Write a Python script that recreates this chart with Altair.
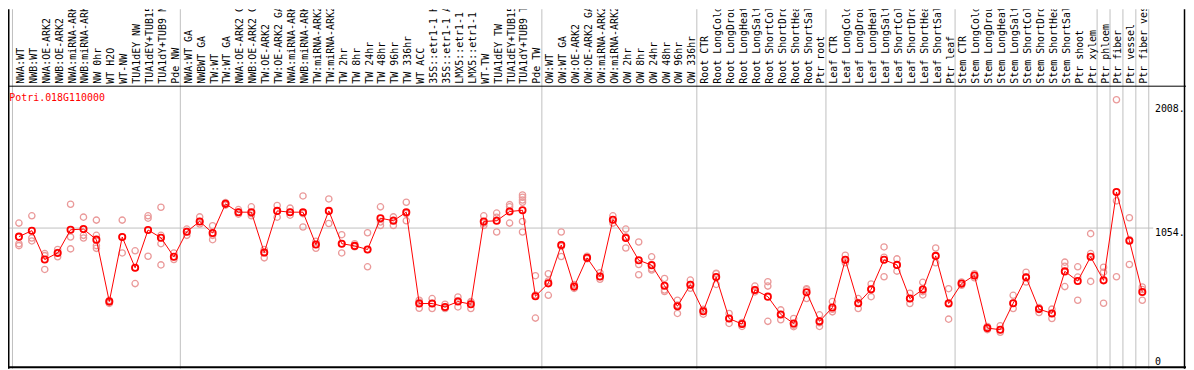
import altair as alt
import pandas as pd

gene = "Potri.018G110000"

labels = [
    "NWA:WT", "NWB:WT", "NWA:OE-ARK2", "NWB:OE-ARK2", "NWA:miRNA-ARK2", "NWB:miRNA-ARK2",
    "NW 0hr", "WT H2O", "WT-NW", "TUA1dEY NW", "TUA1dEY+TUB15", "TUA1dY+TUB9 NW", "Pde NW",
    "NWA:WT GA", "NWBWT GA", "TW:WT", "TW:WT GA", "NWA:OE-ARK2 GA", "NWB:OE-ARK2 GA",
    "TW:OE-ARK2", "TW:OE-ARK2 GA", "NWA:miRNA-ARK2", "NWB:miRNA-ARK2", "TW:miRNA-ARK2",
    "TW:miRNA-ARK2", "TW 2hr", "TW 8hr", "TW 24hr", "TW 48hr", "TW 96hr", "TW 336hr",
    "WT ACC", "35S::etr1-1 H2", "35S::etr1-1 AC", "LMX5::etr1-1 H", "LMX5::etr1-1 A",
    "WT-TW", "TUA1dEY TW", "TUA1dEY+TUB15", "TUA1dY+TUB9 TW", "Pde TW",
    "OW:WT", "OW:WT GA", "OW:OE-ARK2", "OW:OE-ARK2 GA", "OW:miRNA-ARK2", "OW:miRNA-ARK2",
    "OW 2hr", "OW 8hr", "OW 24hr", "OW 48hr", "OW 96hr", "OW 336hr",
    "Root CTR", "Root LongCold", "Root LongDroug", "Root LongHeat", "Root LongSalt",
    "Root ShortCold", "Root ShortDrou", "Root ShortHeat", "Root ShortSalt", "Ptr root",
    "Leaf CTR", "Leaf LongCold", "Leaf LongDroug", "Leaf LongHeat", "Leaf LongSalt",
    "Leaf ShortCold", "Leaf ShortDrou", "Leaf ShortHeat", "Leaf ShortSalt", "Ptr leaf",
    "Stem CTR", "Stem LongCold", "Stem LongDroug", "Stem LongHeat", "Stem LongSalt",
    "Stem ShortCold", "Stem ShortDrou", "Stem ShortHeat", "Stem ShortSalt", "Ptr shoot",
    "Ptr xylem", "Ptr phloem", "Ptr fiber", "Ptr vessel", "Ptr fiber vess",
]

means = [
    988, 1034, 812, 863, 1041, 1046, 965, 489, 985, 749, 1039, 980, 833,
    1026, 1105, 1016, 1240, 1176, 1176, 866, 1186, 1176, 1176, 927, 1186, 934, 917, 889,
    1130, 1110, 1176, 474, 474, 448, 489, 469, 1105, 1110, 1181, 1191, 530,
    629, 924, 604, 825, 682, 1118, 978, 807, 769, 611, 453, 619,
    415, 677, 359, 316, 578, 527, 390, 321, 560, 337,
    443, 810, 476, 583, 810, 771, 512, 581, 840, 474,
    627, 690, 285, 273, 476, 675, 431, 398, 721, 647, 833,
    652, 1331, 957, 563,
]

replicates = [
    [1092, 934, 919], [1148, 978, 955], [858, 842, 736], [889, 866, 833],
    [1237, 985, 894], [1138, 998, 978], [1115, 998, 919, 898], [498, 485, 475],
    [1115, 985, 863], [879, 749, 627], [1148, 1130, 837], [1214, 998, 934, 771],
    [863, 833, 812], [1046, 1026, 998], [1140, 1105, 1085], [1072, 998, 965],
    [1250, 1240, 1230], [1196, 1176, 1161], [1217, 1165, 1148], [889, 866, 825],
    [1227, 1186, 1138], [1207, 1176, 1153], [1301, 1165, 1062], [952, 927, 899],
    [1278, 1186, 1089], [1003, 934, 863], [934, 917, 910], [1018, 889, 756],
    [1217, 1100, 1074], [1140, 1115, 1074], [1252, 1166, 1110], [499, 486, 438],
    [512, 474, 436], [469, 440, 436], [524, 495, 448], [489, 482, 436],
    [1148, 1093, 1074], [1169, 1137, 1024], [1234, 1217, 1092],
    [1308, 1291, 1270, 1252, 1105, 1024], [688, 540, 362],
    [703, 647, 537], [1024, 913, 835], [620, 604, 590], [838, 825, 818],
    [711, 682, 660], [1148, 1118, 1092], [1046, 987, 901], [947, 774, 695],
    [833, 741, 731], [667, 578, 566], [499, 462, 398], [654, 619, 591],
    [430, 415, 392], [707, 703, 621], [398, 359, 321], [328, 316, 298],
    [608, 578, 563], [642, 608, 337], [425, 390, 349], [359, 308, 296],
    [588, 580, 512], [387, 326, 298],
    [489, 430, 410], [845, 810, 787], [512, 481, 436], [624, 583, 527],
    [909, 830, 680], [817, 771, 723], [553, 512, 474], [637, 565, 540],
    [901, 840, 787], [588, 480, 354],
    [640, 627, 614], [703, 690, 672], [298, 285, 273], [303, 273, 253],
    [537, 476, 436], [715, 675, 639], [443, 431, 405], [431, 398, 359],
    [792, 761, 604], [756, 677, 499], [1011, 858, 644],
    [753, 715, 476], [2040, 1263, 680], [1133, 965, 774], [601, 582, 499],
]

group_sizes = [13, 28, 12, 10, 10, 11, 1, 1, 1, 1]
tick_values = [0, 1054, 2008]
tick_labels = ["0", "1054.", "2008."]

# ---- layout (pixels) ----
W, H = 1186, 362
STEP, FIRST = 13.0, 11.0
HEADER_Y = 77
MONO = "DejaVu Sans Mono"
GREY = "#c0c0c0"

n = len(labels)
df_mean = pd.DataFrame({"i": list(range(n)), "label": labels, "mean": means})
df_rep = pd.DataFrame(
    [{"i": i, "v": v} for i, reps in enumerate(replicates) for v in reps]
)
bounds = [0]
for s in group_sizes:
    bounds.append(bounds[-1] + s)
df_sep = pd.DataFrame({"b": [s - 0.5 for s in bounds]})
df_ticks = pd.DataFrame({"v": tick_values, "t": tick_labels})
df_grid = pd.DataFrame({"v": [tick_values[1]]})
dummy = pd.DataFrame({"a": [0]})

xs = alt.Scale(domain=[-FIRST / STEP, (W - FIRST) / STEP], nice=False, zero=False)
ys = alt.Scale(domain=[-27.5, 2735.9], nice=False, zero=False)
X = lambda f: alt.X(f, scale=xs, axis=None)
Y = lambda f: alt.Y(f, scale=ys, axis=None)

seps = alt.Chart(df_sep).mark_rule(color=GREY, strokeWidth=1).encode(
    x=X("b:Q"), y=alt.value(0), y2=alt.value(H)
)
grid = alt.Chart(df_grid).mark_rule(color=GREY, strokeWidth=1).encode(
    y=Y("v:Q"), x=alt.value(0), x2=alt.value(1153)
)
frame_h = alt.Chart(dummy).mark_rule(color="black", strokeWidth=1).encode(
    y=alt.value(HEADER_Y + 0.5), x=alt.value(0), x2=alt.value(W)
)
frame_b = alt.Chart(dummy).mark_rule(color="black", strokeWidth=2).encode(
    y=alt.value(360.5), x=alt.value(0), x2=alt.value(W)
)
frame_l = alt.Chart(dummy).mark_rule(color="black", strokeWidth=1.5).encode(
    x=alt.value(0.75), y=alt.value(0), y2=alt.value(H)
)
frame_r = alt.Chart(dummy).mark_rule(color="black", strokeWidth=1.5).encode(
    x=alt.value(1184.5), y=alt.value(0), y2=alt.value(H)
)

reps = alt.Chart(df_rep).mark_point(
    shape="circle", filled=False, color="#ea9a9a", size=40, strokeWidth=1.3, opacity=1
).encode(x=X("i:Q"), y=Y("v:Q"))

line = alt.Chart(df_mean).mark_line(color="#ff0000", strokeWidth=1).encode(
    x=X("i:Q"), y=Y("mean:Q"), order="i:Q"
)
pts = alt.Chart(df_mean).mark_point(
    shape="circle", filled=False, color="#ff0000", size=40, strokeWidth=1.8, opacity=1
).encode(x=X("i:Q"), y=Y("mean:Q"))

head = alt.Chart(df_mean).mark_text(
    angle=270, align="left", baseline="middle", dy=2, font=MONO, fontSize=10,
    color="black", clip=True
).encode(x=X("i:Q"), y=alt.value(75), text="label:N")

gene_txt = alt.Chart(dummy).mark_text(
    align="left", baseline="alphabetic", font=MONO, fontSize=10, color="#ff0000"
).encode(x=alt.value(1.3), y=alt.value(92.7), text=alt.value(gene))

ticks_top = alt.Chart(df_ticks).transform_filter("datum.v > 0").mark_text(
    align="left", baseline="top", font=MONO, fontSize=10, color="black"
).encode(x=alt.value(1154.7), y=Y("v:Q"), text="t:N")
ticks_zero = alt.Chart(df_ticks).transform_filter("datum.v == 0").mark_text(
    align="left", baseline="alphabetic", font=MONO, fontSize=10, color="black"
).encode(x=alt.value(1154.7), y=Y("v:Q"), text="t:N")

chart = alt.layer(
    seps, grid, frame_h, frame_b, frame_l, frame_r,
    reps, line, pts, head, gene_txt, ticks_top, ticks_zero
).properties(
    width=W, height=H, padding=0, autosize="none", background="white"
).configure_view(stroke=None)

chart.save("out.html", embed_options={"renderer": "svg", "actions": False})
